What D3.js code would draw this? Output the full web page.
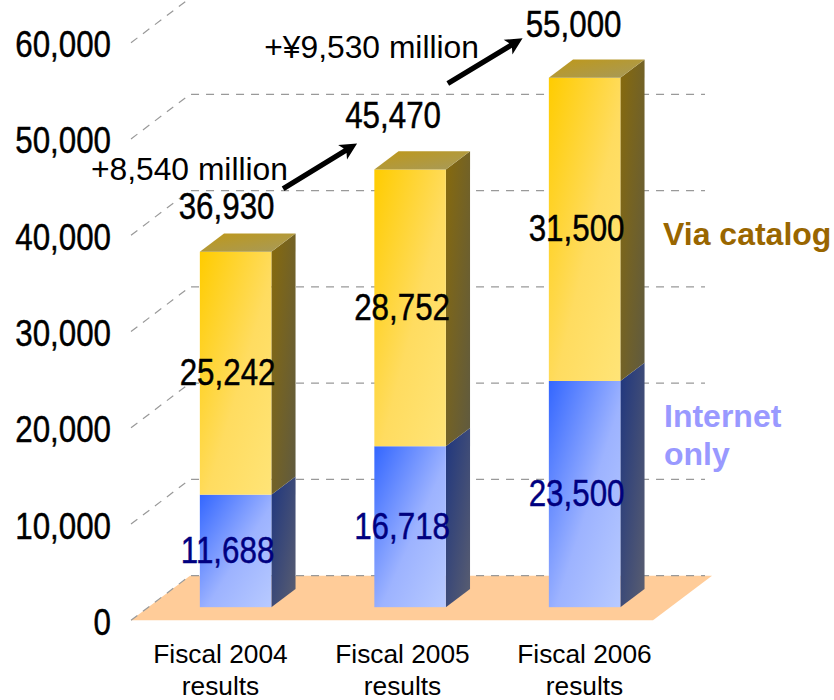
<!DOCTYPE html>
<html>
<head>
<meta charset="utf-8">
<script src="https://cdn.jsdelivr.net/npm/d3@7/dist/d3.min.js"></script>
<style>
  html, body { margin: 0; padding: 0; background: #fff; }
  svg { display: block; }
  text { fill: #000; }
  .sans { font-family: "Liberation Sans", Arial, sans-serif; }
  .num { font-family: "Liberation Sans", Arial, sans-serif; stroke-width: 0.45px; }
</style>
</head>
<body>
<svg id="chart" width="834" height="700"></svg>
<script>
// Sales by channel, millions of yen
const categories = ["Fiscal 2004", "Fiscal 2005", "Fiscal 2006"];
const internetOnly = [11688, 16718, 23500];
const viaCatalog = [25242, 28752, 31500];
const totals = [36930, 45470, 55000];
const yTicks = [0, 10000, 20000, 30000, 40000, 50000, 60000];
const growthPrefixes = ["+", "+¥"];
const seriesNames = ["Via catalog", "Internet only"];

// Oblique projection: z runs from the front edge of the floor (0) to the back wall (1)
const depthX = 59, depthY = 44.6;
const barZ0 = 0.294, barZ1 = 0.704;
const barWidth = 71.5;
const floorLeft = 131, floorRight = 653;
const numberSqueeze = 0.87;

const svg = d3.select("#chart");
const y = d3.scaleLinear().domain([0, 60000]).range([620.3, 42.7]);
const x = d3.scaleBand().domain(categories).range([131, 654.5]);
const labelX = d3.scalePoint().domain(categories).range([220, 584]);
const fmt = d3.format(",");

const px = (xv, z) => xv + z * depthX;
const py = (v, z) => y(v) - z * depthY;
const barLeft = c => px(x(c) + x.bandwidth() / 2 - barWidth / 2, barZ0);
const poly = pts => "M" + pts.map(p => p.join(",")).join("L") + "Z";

// The numerals are set in a condensed cut: squeeze each one horizontally
function condense(sel) {
  sel.each(function () {
    const len = this.getComputedTextLength();
    d3.select(this).attr("textLength", len * numberSqueeze).attr("lengthAdjust", "spacingAndGlyphs");
  });
}

// Gradients
const defs = svg.append("defs");
function gradient(id, stops) {
  const g = defs.append("linearGradient").attr("id", id)
    .attr("x1", 0).attr("y1", 0).attr("x2", 1).attr("y2", 1);
  stops.forEach(([o, c]) => g.append("stop").attr("offset", o).attr("stop-color", c));
}
gradient("yellowFront", [[0, "#FFCC00"], [0.55, "#FFDC60"], [1, "#FFE477"]]);
gradient("yellowSide", [[0, "#876A0C"], [1, "#5F5A40"]]);
gradient("yellowTop", [[0, "#BF9818"], [1, "#A69A5C"]]);
gradient("blueFront", [[0, "#3366FF"], [0.55, "#9DB3FF"], [1, "#B8CAFF"]]);
gradient("blueSide", [[0, "#1F367F"], [1, "#5A5E70"]]);

// Floor
svg.append("path").attr("fill", "#FFCC99")
  .attr("d", poly([[px(floorLeft, 0), py(0, 0)], [px(floorRight, 0), py(0, 0)], [px(floorRight, 1), py(0, 1)], [px(floorLeft, 1), py(0, 1)]]));

// Grid on the side wall and back wall
const grid = svg.append("g").attr("fill", "none").attr("stroke", "#999").attr("stroke-width", 1.2)
  .attr("stroke-dasharray", "8,7");
grid.selectAll("path").data(yTicks).join("path")
  .attr("d", v => `M${px(floorLeft, 0)},${py(v, 0)}L${px(floorLeft, 1)},${py(v, 1)}L${px(floorRight, 1) - 7},${py(v, 1)}`);

// Bars: each segment has a front face and a side face, the top face caps the stack
const bars = svg.append("g");
categories.forEach((c, i) => {
  const l = barLeft(c), r = l + barWidth;
  const dx = (barZ1 - barZ0) * depthX, dy = (barZ1 - barZ0) * depthY;
  const segments = [
    { from: 0, to: internetOnly[i], front: "blueFront", side: "blueSide" },
    { from: internetOnly[i], to: totals[i], front: "yellowFront", side: "yellowSide" }
  ];
  segments.forEach(s => {
    const top = py(s.to, barZ0), bottom = py(s.from, barZ0);
    bars.append("path").attr("fill", `url(#${s.side})`)
      .attr("d", poly([[r, bottom], [r + dx, bottom - dy], [r + dx, top - dy], [r, top]]));
    bars.append("rect").attr("x", l).attr("y", top).attr("width", barWidth).attr("height", bottom - top)
      .attr("fill", `url(#${s.front})`);
  });
  const t = py(totals[i], barZ0);
  bars.append("path").attr("fill", "url(#yellowTop)")
    .attr("d", poly([[l, t], [r, t], [r + dx, t - dy], [l + dx, t - dy]]));
});

// Value axis
const yAxis = d3.axisLeft(y).tickValues(yTicks).tickSize(0).tickPadding(20).tickFormat(fmt);
const yg = svg.append("g").attr("transform", "translate(131,0)").call(yAxis);
yg.select(".domain").remove();
yg.selectAll("text").attr("class", "num").style("font-size", "36px").style("fill", "#000")
  .style("stroke", "#000").attr("dy", null).attr("y", 14).call(condense);

// Category axis, two lines per label
const xAxis = d3.axisBottom(labelX).tickSize(0).tickPadding(0);
const xg = svg.append("g").attr("transform", "translate(0,663)").call(xAxis);
xg.select(".domain").remove();
xg.selectAll("text").attr("class", "sans").attr("y", 0).attr("dy", null)
  .style("font-size", "26.3px").style("fill", "#000");
xg.selectAll("text").append("tspan").attr("x", 0).attr("dy", 32).text("results");

// Segment and total labels
const segLabelShift = -8, segLabelDrop = 12;
const totalShift = [-9, -17, -11], totalLift = [33, 41, 41];
const labels = svg.append("g").attr("class", "num").attr("text-anchor", "middle").style("font-size", "36px");
const centre = c => barLeft(c) + barWidth / 2;
categories.forEach((c, i) => {
  const catMid = (py(internetOnly[i], barZ0) + py(totals[i], barZ0)) / 2;
  const intMid = (py(0, barZ0) + py(internetOnly[i], barZ0)) / 2;
  labels.append("text").attr("x", centre(c) + segLabelShift).attr("y", catMid + segLabelDrop)
    .style("stroke", "#000").text(fmt(viaCatalog[i]));
  labels.append("text").attr("x", centre(c) + segLabelShift).attr("y", intMid + segLabelDrop)
    .style("fill", "#000080").style("stroke", "#000080").text(fmt(internetOnly[i]));
  labels.append("text").attr("x", centre(c) + totalShift[i]).attr("y", py(totals[i], barZ0) - totalLift[i])
    .style("stroke", "#000").text(fmt(totals[i]));
});
labels.selectAll("text").call(condense);

// Series names beside the last bar
const names = svg.append("g").attr("class", "sans").style("font-weight", "bold").style("font-size", "32px");
names.append("text").attr("x", 663).attr("y", py(viaCatalog[2] / 2 + internetOnly[2], barZ0) + 16)
  .style("fill", "#996600").text(seriesNames[0]);
const internetParts = seriesNames[1].split(" ");
names.append("text").attr("x", 664).attr("y", 427).style("fill", "#9999FF").text(internetParts[0]);
names.append("text").attr("x", 664).attr("y", 465).style("fill", "#9999FF").text(internetParts[1]);

// Growth arrows between consecutive totals
const arrowTail = [[47.5, -63], [37.7, -86]];
const arrowTip = [[-53, -26], [-62, -39.4]];
const growthTextEnd = [288, 479], growthTextBase = [180, 58];
const growth = svg.append("g");
d3.pairs(totals).forEach(([a, b], i) => {
  const x0 = centre(categories[i]) + arrowTail[i][0], y0 = py(a, barZ0) + arrowTail[i][1];
  const x1 = centre(categories[i + 1]) + arrowTip[i][0], y1 = py(b, barZ0) + arrowTip[i][1];
  const ang = Math.atan2(y1 - y0, x1 - x0);
  const at = (along, across) => [
    x1 + along * Math.cos(ang) - across * Math.sin(ang),
    y1 + along * Math.sin(ang) + across * Math.cos(ang)
  ];
  const tail = across => [x0 - across * Math.sin(ang), y0 + across * Math.cos(ang)];
  growth.append("path").attr("fill", "#000")
    .attr("d", poly([tail(-2.6), at(-14, -2.6), at(-17, -8.5), at(0, 0), at(-17, 8.5), at(-14, 2.6), tail(2.6)]));
  growth.append("text").attr("class", "sans").attr("text-anchor", "end")
    .attr("x", growthTextEnd[i]).attr("y", growthTextBase[i]).style("font-size", "31.8px")
    .text(`${growthPrefixes[i]}${fmt(b - a)} million`);
});
</script>
</body>
</html>
